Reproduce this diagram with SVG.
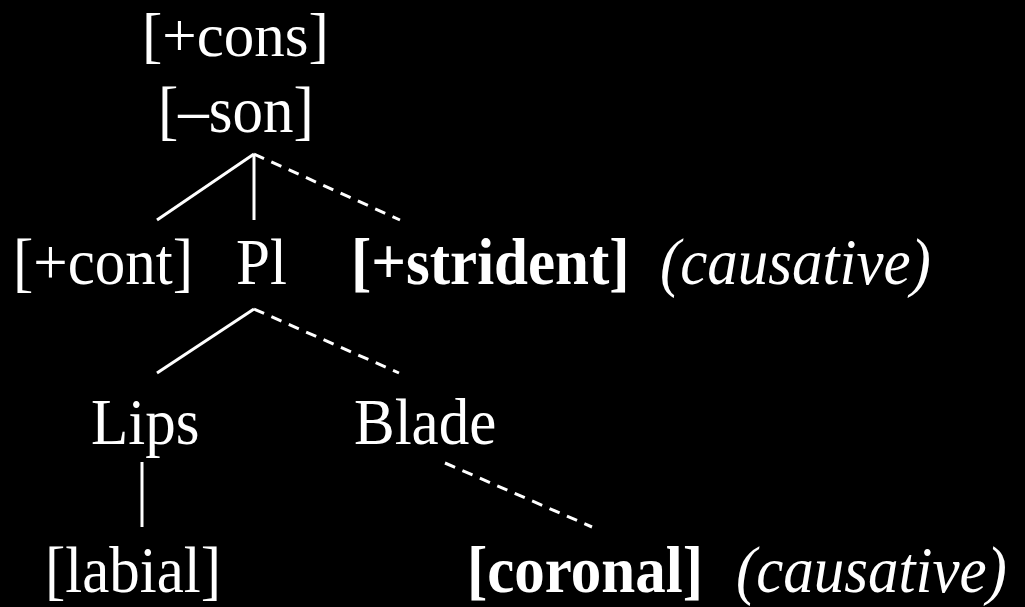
<svg xmlns="http://www.w3.org/2000/svg" width="1025" height="607" viewBox="0 0 1025 607">
<style>
text{font-family:"Liberation Serif","Times New Roman",serif;font-size:61px;fill:#fff}
.b{font-weight:bold}
.i{font-style:italic}
line{stroke:#fff;stroke-width:3}
.d{stroke-dasharray:11 8}
</style>
<rect width="1025" height="607" fill="#000"/>
<g id="connectors">
<line x1="254" y1="154" x2="157" y2="220"/>
<line x1="254" y1="154" x2="254" y2="220"/>
<line class="d" x1="254" y1="154" x2="400" y2="220"/>
<line x1="254" y1="309" x2="157" y2="373"/>
<line class="d" x1="254" y1="309" x2="399" y2="373"/>
<line x1="142" y1="462" x2="142" y2="527"/>
<line class="d" x1="445" y1="463" x2="592" y2="527"/>
</g>
<g id="root"><text x="142" y="56">[+cons]</text><text transform="translate(0,131.5) scale(1,1.07)" x="158" y="0">[–son]</text></g>
<g id="cont"><text transform="translate(0,283.5) scale(1,1.07)" x="13" y="0">[+cont]</text></g>
<g id="pl"><text transform="translate(0,283.5) scale(1,1.07)" x="236" y="0">Pl</text></g>
<g id="strident"><text class="b" transform="translate(0,283.5) scale(1,1.07)" x="351" y="0">[+strident]</text><text class="i" transform="translate(0,283.5) scale(1,1.07)" x="660" y="0">(causative)</text></g>
<g id="lips"><text transform="translate(0,444) scale(1,1.07)" x="91" y="0">Lips</text></g>
<g id="blade"><text transform="translate(0,444) scale(1,1.07)" x="354" y="0">Blade</text></g>
<g id="labial"><text transform="translate(0,591.5) scale(1,1.07)" x="45" y="0">[labial]</text></g>
<g id="coronal"><text class="b" transform="translate(0,591.5) scale(1,1.07)" x="467" y="0">[coronal]</text><text class="i" transform="translate(0,591.5) scale(1,1.07)" x="736" y="0">(causative)</text></g>
</svg>
